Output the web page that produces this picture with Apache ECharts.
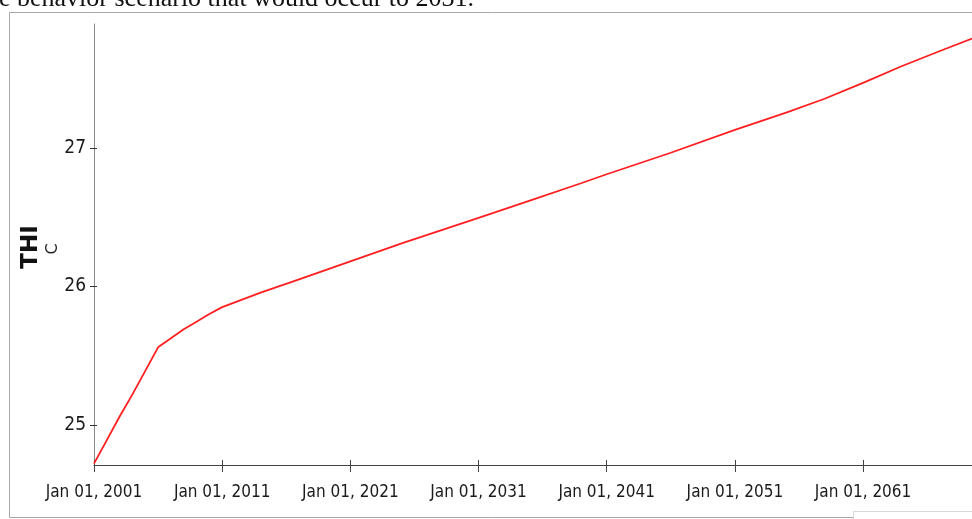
<!DOCTYPE html>
<html>
<head>
<meta charset="utf-8">
<title>THI</title>
<script src="https://cdn.jsdelivr.net/npm/echarts@6/dist/echarts.min.js"></script>
<style>
  html, body { margin: 0; padding: 0; background: #fff; }
  #chart { width: 972px; height: 519px; }
</style>
</head>
<body>
<div id="chart"></div>
<script>
// Projected THI (°C), yearly readings from 2001 to mid-2069
const years = [2001, 2002, 2003, 2004, 2005, 2006, 2007, 2008, 2009, 2010,
  2011, 2014, 2017, 2021, 2025, 2031, 2035, 2039, 2041, 2046,
  2051, 2055, 2058, 2061, 2064, 2067, 2069.5];
const thi = [24.72, 24.89, 25.06, 25.22, 25.39, 25.56, 25.625, 25.69, 25.745, 25.80,
  25.85, 25.955, 26.05, 26.18, 26.31, 26.495, 26.62, 26.745, 26.81, 26.965,
  27.13, 27.255, 27.355, 27.47, 27.59, 27.70, 27.79];

// Axis tick positions
const xTickYears = [2001, 2011, 2021, 2031, 2041, 2051, 2061];
const yTickValues = [25, 26, 27];

const baseYear = 2001;
const lineData = years.map((y, i) => [y - baseYear, thi[i]]);
const xTicks = xTickYears.map(y => y - baseYear);

const labelFont = "'Liberation Sans Narrow', 'DejaVu Sans Condensed', sans-serif";

const chart = echarts.init(document.getElementById('chart'), null, { renderer: 'canvas' });

chart.setOption({
  animation: false,
  backgroundColor: '#ffffff',
  grid: { left: 94, right: 0, top: 24, bottom: 54, containLabel: false },
  xAxis: [
    {
      type: 'value',
      min: 0,
      max: 68.5,
      axisLine: { show: true, lineStyle: { color: '#444', width: 1 } },
      axisTick: { show: true, length: 7, customValues: xTicks, lineStyle: { color: '#444' } },
      axisLabel: {
        customValues: xTicks,
        margin: 19,
        fontFamily: labelFont,
        fontSize: 17,
        color: '#1a1a1a',
        formatter: v => 'Jan 01, ' + (baseYear + v)
      },
      splitLine: { show: false }
    },
    {
      type: 'value',
      min: 0,
      max: 68.5,
      position: 'bottom',
      axisLine: { show: false },
      axisTick: { show: true, inside: true, length: 5, customValues: xTicks, lineStyle: { color: '#444' } },
      axisLabel: { show: false },
      splitLine: { show: false }
    }
  ],
  yAxis: [
    {
      type: 'value',
      min: 24.71,
      max: 27.895,
      axisLine: { show: true, lineStyle: { color: '#888', width: 1 } },
      axisTick: { show: true, length: 4, customValues: yTickValues, lineStyle: { color: '#333' } },
      axisLabel: {
        customValues: yTickValues,
        margin: 8,
        fontFamily: labelFont,
        fontSize: 19,
        color: '#1a1a1a'
      },
      splitLine: { show: false }
    },
    {
      type: 'value',
      min: 24.71,
      max: 27.895,
      position: 'left',
      axisLine: { show: false },
      axisTick: { show: true, inside: true, length: 3, customValues: yTickValues, lineStyle: { color: '#333' } },
      axisLabel: { show: false },
      splitLine: { show: false }
    }
  ],
  series: [
    {
      type: 'line',
      xAxisIndex: 0,
      yAxisIndex: 0,
      data: lineData,
      showSymbol: false,
      smooth: false,
      lineStyle: { color: '#ff1f1f', width: 1.8 }
    }
  ],
  graphic: [
    {
      type: 'text',
      x: -1,
      y: 12,
      style: {
        text: 'e behavior scenario that would occur to 2031.',
        font: "26px 'Liberation Serif', 'Times New Roman', serif",
        fill: '#111',
        verticalAlign: 'bottom'
      },
      silent: true
    },
    {
      type: 'rect',
      shape: { x: 9.5, y: 12.5, width: 1000, height: 505 },
      style: { fill: 'none', stroke: '#a8a8a8', lineWidth: 1 },
      silent: true,
      z: -1
    },
    {
      type: 'rect',
      shape: { x: 853.5, y: 511.5, width: 200, height: 20 },
      style: { fill: '#fff', stroke: '#d8d8d8', lineWidth: 1 },
      silent: true
    },
    {
      type: 'text',
      x: 31,
      y: 247,
      rotation: Math.PI / 2,
      style: {
        text: 'THI',
        font: "bold 23px 'DejaVu Sans', sans-serif",
        fill: '#111',
        align: 'center',
        verticalAlign: 'middle'
      },
      silent: true
    },
    {
      type: 'text',
      x: 53,
      y: 249,
      rotation: Math.PI / 2,
      style: {
        text: 'C',
        font: "16px 'DejaVu Sans', sans-serif",
        fill: '#222',
        align: 'center',
        verticalAlign: 'middle'
      },
      silent: true
    }
  ]
});
</script>
</body>
</html>
